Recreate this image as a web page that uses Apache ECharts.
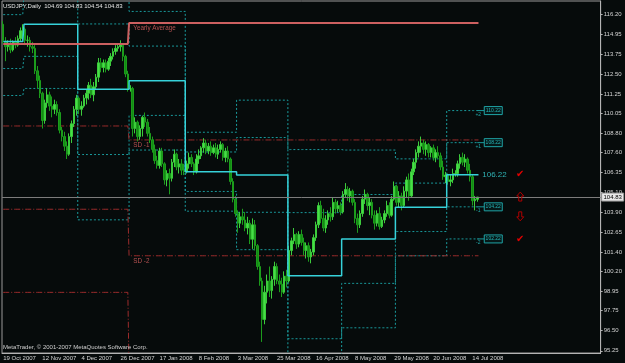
<!DOCTYPE html>
<html><head><meta charset="utf-8">
<script src="https://cdn.jsdelivr.net/npm/echarts@6/dist/echarts.min.js"></script>
<style>html,body{margin:0;padding:0;background:#060b0b}#c{width:625px;height:363px}</style>
</head><body><div id="c"></div>
<script>
// ---- tick labels ----
const dateLabels = ['19 Oct 2007','12 Nov 2007','4 Dec 2007','26 Dec 2007','17 Jan 2008','8 Feb 2008','3 Mar 2008','25 Mar 2008','16 Apr 2008','8 May 2008','29 May 2008','20 Jun 2008','14 Jul 2008'];
const labelEvery = 16;
const slotCount = 245;
const priceTicks = [116.20,114.95,113.75,112.50,111.25,110.05,108.80,107.60,106.35,105.10,103.90,102.65,101.40,100.20,98.95,97.75,96.50,95.25];
const title = 'USDJPY,Daily  104.69 104.83 104.54 104.83';
const lastPrice = 104.83;

// ---- daily candles (USDJPY) ----
const opens = [
115.6,114.5,114.2,114.4,114.0,114.5,114.3,114.7,115.2,115.3,
114.6,114.6,114.2,114.1,112.7,112.1,111.3,109.6,110.7,111.2,
110.5,110.3,110.6,110.1,109.0,108.6,108.0,107.5,108.6,109.4,
110.3,111.0,110.3,110.5,111.0,111.3,111.8,111.2,111.7,112.3,
113.2,112.9,113.2,112.8,113.3,113.6,113.9,114.1,114.2,114.3,
113.6,112.5,111.6,111.6,109.1,109.5,108.6,109.1,109.8,109.5,
108.8,108.4,107.8,107.1,106.8,107.7,106.9,105.9,106.3,106.0,
107.0,107.5,106.7,106.9,106.5,106.4,106.9,107.3,106.9,106.4,
107.2,107.4,107.9,108.2,107.7,108.0,107.6,107.9,107.5,107.8,
108.1,107.3,107.7,107.2,105.8,104.7,103.8,103.2,103.6,103.4,
102.9,103.2,102.2,103.1,101.8,100.5,99.6,97.2,98.9,99.6,
99.0,99.7,100.5,99.6,99.4,98.9,99.9,99.6,101.5,102.1,
102.5,101.9,102.5,102.0,101.5,101.8,101.1,101.4,102.3,103.1,
104.3,103.5,102.9,103.4,103.8,103.6,104.5,104.1,104.3,103.9,
105.0,105.3,104.9,105.2,104.5,103.5,103.1,103.8,104.7,105.0,
104.3,104.5,103.7,103.2,103.8,103.0,103.4,103.8,104.3,103.7,
104.7,105.5,104.5,104.9,104.3,105.2,105.9,104.9,106.4,107.0,
107.6,108.0,108.2,107.8,108.1,107.6,107.9,107.3,107.6,107.4,
106.7,106.1,106.2,105.8,105.9,106.3,106.3,106.9,107.3,107.0,
107.2,106.5,106.1,104.6,104.69];
const closes = [
114.6,114.2,114.4,114.0,114.5,114.3,114.7,115.2,115.3,114.6,
114.6,114.2,114.1,112.7,112.1,111.3,109.6,110.7,111.2,110.5,
110.3,110.6,110.1,109.0,108.6,108.0,107.5,108.6,109.4,110.3,
111.0,110.3,110.5,111.0,111.3,111.8,111.2,111.7,112.3,113.2,
112.9,113.2,112.8,113.3,113.6,113.9,114.1,114.2,114.3,113.6,
112.5,111.6,111.6,109.1,109.5,108.6,109.1,109.8,109.5,108.8,
108.4,107.8,107.1,106.8,107.7,106.9,105.9,106.3,106.0,107.0,
107.5,106.7,106.9,106.5,106.4,106.9,107.3,106.9,106.4,107.2,
107.4,107.9,108.2,107.7,108.0,107.6,107.9,107.5,107.8,108.1,
107.3,107.7,107.2,105.8,104.7,103.8,103.2,103.6,103.4,102.9,
103.2,102.2,103.1,101.8,100.5,99.6,97.2,98.9,99.6,99.0,
99.7,100.5,99.6,99.4,98.9,99.9,99.6,101.5,102.1,102.5,
101.9,102.5,102.0,101.5,101.8,101.1,101.4,102.3,103.1,104.3,
103.5,102.9,103.4,103.8,103.6,104.5,104.1,104.3,103.9,105.0,
105.3,104.9,105.2,104.5,103.5,103.1,103.8,104.7,105.0,104.3,
104.5,103.7,103.2,103.8,103.0,103.4,103.8,104.3,103.7,104.7,
105.5,104.5,104.9,104.3,105.2,105.9,104.9,106.4,107.0,107.6,
108.0,108.2,107.8,108.1,107.6,107.9,107.3,107.6,107.4,106.7,
106.1,106.2,105.8,105.9,106.3,106.3,106.9,107.3,107.0,107.2,
106.5,106.1,104.6,104.7,104.83];
const lows = [
114.4,113.3,113.9,113.8,113.9,114.1,114.2,114.5,114.6,114.3,
114.2,113.9,113.8,112.5,111.6,111.0,109.1,109.4,110.4,110.2,
109.8,110.0,109.9,108.8,108.3,107.7,107.2,107.4,108.2,109.2,
109.9,110.0,109.9,110.4,110.6,110.9,111.0,110.8,111.5,112.0,
112.6,112.6,112.6,112.7,113.0,113.4,113.7,113.9,113.9,113.3,
112.3,111.4,111.4,108.6,108.8,108.3,108.4,108.6,109.2,108.6,
108.2,107.6,106.9,106.6,106.6,106.7,105.6,105.5,105.0,105.8,
106.7,106.5,106.3,106.2,106.2,106.3,106.6,106.7,106.2,106.3,
106.9,107.2,107.6,107.5,107.5,107.4,107.5,107.3,107.2,107.6,
107.1,107.0,107.0,105.6,104.5,103.6,102.6,102.9,103.1,102.7,
102.5,101.9,101.6,101.5,100.3,99.3,95.8,96.9,98.2,98.6,
98.5,99.3,99.4,98.9,98.6,98.8,99.2,99.5,101.2,101.9,
101.6,101.7,101.8,101.2,101.0,100.8,100.7,101.2,102.1,102.9,
103.2,102.7,102.6,103.1,103.3,103.4,103.8,103.9,103.7,103.8,
104.8,104.6,104.5,104.3,103.2,102.6,102.9,103.6,104.4,104.0,
103.7,103.5,102.8,103.0,102.8,102.9,103.2,103.6,103.5,103.6,
104.6,104.3,104.2,104.0,104.2,104.8,104.6,104.8,106.2,106.6,
107.3,107.6,107.5,107.4,107.3,107.3,107.1,107.0,107.2,106.5,
105.9,105.7,105.6,105.5,105.7,106.1,106.1,106.6,106.8,106.7,
106.3,105.8,104.3,104.0,104.54];
const highs = [
115.8,114.8,114.6,114.7,114.6,114.8,114.9,115.4,115.6,115.4,
114.9,114.8,114.5,114.3,113.0,112.4,111.4,110.9,111.6,111.4,
111.1,110.9,110.8,110.3,109.2,108.9,108.3,108.8,109.6,110.5,
111.2,111.1,110.8,111.2,111.5,112.0,112.2,112.0,112.5,113.5,
113.5,113.4,113.4,113.5,113.8,114.1,114.3,114.4,114.6,114.4,
113.7,112.7,111.8,111.7,109.8,109.6,109.3,109.9,110.1,109.7,
109.2,108.6,108.1,107.4,107.9,107.9,107.0,106.5,106.6,107.2,
107.8,107.6,107.2,107.2,106.9,107.1,107.6,107.5,107.0,107.5,
107.8,108.0,108.5,108.4,108.2,108.3,108.1,108.2,108.1,108.3,
108.2,107.9,108.0,107.3,106.0,104.9,104.0,103.9,104.1,103.9,
103.6,103.4,103.5,103.4,101.9,100.8,99.8,99.3,100.0,100.5,
99.9,100.8,100.7,100.0,99.8,100.2,100.3,101.8,102.3,102.9,
102.6,102.7,102.8,102.3,102.0,102.0,101.6,102.5,103.3,104.5,
104.6,104.1,103.7,104.0,104.2,104.8,104.7,104.6,104.5,105.2,
105.7,105.5,105.4,105.3,104.7,103.8,104.0,104.9,105.3,105.1,
104.8,104.7,104.0,104.0,104.2,103.6,104.0,104.6,104.5,104.9,
105.8,105.6,105.2,105.1,105.5,106.1,106.3,106.6,107.2,107.8,
108.3,108.6,108.4,108.3,108.2,108.0,108.1,107.8,108.0,107.6,
107.1,106.4,106.3,106.2,106.6,106.5,107.1,107.5,107.6,107.5,
107.3,106.9,106.2,104.9,104.83];

// ---- monthly pivot levels (per month) ----
const monthStarts = [0,9,31,52,75,96,117,139,161,182];
const pivotLevel = [114.52,115.60,111.55,112.08,106.41,106.21,99.93,102.22,104.19,106.22];
const bandPlus2 = [117.88,119.59,119.69,116.40,108.87,110.87,107.79,107.76,107.21,110.22];
const bandPlus1 = [116.20,117.60,115.62,114.24,107.64,108.54,103.86,104.99,105.70,108.22];
const bandMinus1 = [112.84,113.60,107.48,109.92,105.18,103.88,96.00,99.45,102.68,104.22];
const bandMinus2 = [111.16,111.60,103.41,107.76,103.95,101.55,92.07,96.68,101.17,102.22];
const bandNames = ['+2','+1','-1','-2'];

// ---- yearly levels ----
const yearStarts = [0,52];
const yearAvg = [114.37,115.68];
const yearSdM1 = [109.26,108.39];
const yearSdM2 = [104.07,101.17];
const yearSdM3 = [98.89,93.90];

const lastBar = opens.length - 1;
const cats = Array.from({length: slotCount}, (_, i) => String(i));
const candles = opens.map((o, i) => [o, closes[i], lows[i], highs[i]]);
function expand(starts, vals) {
  const out = [];
  for (let i = 0; i < slotCount; i++) {
    if (i > lastBar) { out.push(null); continue; }
    let k = 0;
    while (k + 1 < starts.length && starts[k + 1] <= i) k++;
    out.push(vals[k]);
  }
  return out;
}
const FONT = 'Liberation Sans, Arial, sans-serif';
const dotted = (name, vals) => ({
  name, type: 'line', data: expand(monthStarts, vals), step: 'middle', symbol: 'none', silent: true,
  lineStyle: {color: '#1a9c9e', width: 1, type: [2, 2]}, clip: true, z: 2
});
const dashdot = (name, vals) => ({
  name, type: 'line', data: expand(yearStarts, vals), step: 'middle', symbol: 'none', silent: true,
  lineStyle: {color: '#9c2c2c', width: 1, type: [6, 2, 1, 2]}, clip: true, z: 2
});

const chart = echarts.init(document.getElementById('c'), null, {renderer: 'canvas'});
const isLab = (i) => i % labelEvery === 0 && i / labelEvery < dateLabels.length;
chart.setOption({
  backgroundColor: '#060b0b',
  animation: false,
  grid: {left: 2, right: 23, top: 1, bottom: 10, show: true, borderColor: '#9a9a9a', borderWidth: 1, backgroundColor: 'transparent'},
  xAxis: {
    type: 'category', data: cats, boundaryGap: true,
    axisLine: {lineStyle: {color: '#b4b4b4', width: 1}},
    axisTick: {interval: (i) => isLab(i), length: 2, lineStyle: {color: '#b4b4b4'}},
    axisLabel: {interval: (i) => isLab(i), formatter: (v) => dateLabels[Number(v) / labelEvery], align: 'left',
      color: '#d4d4d4', fontSize: 6, fontFamily: FONT, margin: 2},
    splitLine: {show: false}
  },
  yAxis: {
    type: 'value', position: 'right', min: 95.11, max: 117.05,
    axisLine: {show: true, lineStyle: {color: '#b4b4b4'}},
    axisTick: {show: true, customValues: priceTicks, length: 2, lineStyle: {color: '#b4b4b4'}},
    axisLabel: {customValues: priceTicks, formatter: (v) => v.toFixed(2), color: '#d4d4d4', fontSize: 6, fontFamily: FONT, margin: 3},
    splitLine: {show: false}
  },
  series: [
    dotted('+2', bandPlus2), dotted('+1', bandPlus1), dotted('-1', bandMinus1), dotted('-2', bandMinus2),
    dashdot('SD -1', yearSdM1), dashdot('SD -2', yearSdM2), dashdot('SD -3', yearSdM3),
    {
      name: 'USDJPY', type: 'candlestick', data: candles, barWidth: 2, z: 3,
      itemStyle: {color: '#46e046', color0: '#128c12', borderColor: '#3ccc3c', borderColor0: '#1c9c1c', borderWidth: 1},
      markLine: {silent: true, symbol: 'none', label: {show: false},
        lineStyle: {color: '#7c7c7c', type: 'solid', width: 1},
        data: [{yAxis: lastPrice}]}
    },
    {name: 'Pivot', type: 'line', data: expand(monthStarts, pivotLevel), step: 'middle', symbol: 'none', silent: true,
      lineStyle: {color: '#36d2da', width: 1.5}, z: 4},
    {name: 'Yearly Average', type: 'line', data: expand(yearStarts, yearAvg), step: 'middle', symbol: 'none', silent: true,
      lineStyle: {color: '#cc6060', width: 2}, z: 4}
  ]
});

// ---- annotations placed through the chart's own scales ----
const P = (i, v) => chart.convertToPixel({gridIndex: 0}, [i, v]);
const g = [];
const lastX = P(lastBar, lastPrice)[0];
const gridRect = chart.getModel().getComponent('grid').coordinateSystem.getRect();
g.push({type: 'text', left: gridRect.x + 1, top: gridRect.y + 2, style: {text: title, fill: '#e4e4e4', font: '6px ' + FONT}, z: 10});
g.push({type: 'text', left: gridRect.x + 1, top: gridRect.y + gridRect.height - 9, style: {text: 'MetaTrader, © 2001-2007 MetaQuotes Software Corp.', fill: '#d0d0d0', font: '6px ' + FONT}, z: 10});
// last-month band labels
const lastVals = [bandPlus2[9], bandPlus1[9], bandMinus1[9], bandMinus2[9]];
lastVals.forEach((v, k) => {
  const y = P(lastBar, v)[1];
  g.push({type: 'line', shape: {x1: lastX, y1: y, x2: lastX + 7, y2: y}, style: {stroke: '#1a9c9e', lineWidth: 1}, z: 10});
  g.push({type: 'rect', shape: {x: lastX + 7, y: y - 4, width: 18, height: 8}, style: {fill: '#061818', stroke: '#1fa4a6', lineWidth: 1}, z: 10});
  g.push({type: 'text', x: lastX + 16, y: y, style: {text: v.toFixed(2), fill: '#24b4b6', font: '5px ' + FONT, align: 'center', verticalAlign: 'middle'}, z: 11});
  g.push({type: 'text', x: lastX + 1, y: y + 4, style: {text: bandNames[k], fill: '#1fa4a6', font: '5px ' + FONT, align: 'center', verticalAlign: 'middle'}, z: 11});
});
// pivot label
const pvY = P(lastBar, pivotLevel[9])[1];
g.push({type: 'text', x: lastX + 5, y: pvY, style: {text: pivotLevel[9].toFixed(2), fill: '#2fb2b4', font: '8px ' + FONT, verticalAlign: 'middle'}, z: 11});
// yearly labels
const yx = P(yearStarts[1], yearAvg[1])[0];
[['Yearly Average', yearAvg[1]], ['SD -1', yearSdM1[1]], ['SD -2', yearSdM2[1]]].forEach(([t, v]) => {
  const y = P(yearStarts[1], v)[1];
  g.push({type: 'text', x: yx + 3, y: y + 5, style: {text: t, fill: '#b85252', font: '6.3px ' + FONT, verticalAlign: 'middle'}, z: 11});
});
// signal marks
const sx = lastX + 43;
g.push({type: 'text', x: sx, y: pvY, style: {text: '✔', fill: '#e00000', font: '10px DejaVu Sans', align: 'center', verticalAlign: 'middle'}, z: 11});
g.push({type: 'text', x: sx, y: P(lastBar, bandMinus2[9])[1], style: {text: '✔', fill: '#e00000', font: '10px DejaVu Sans', align: 'center', verticalAlign: 'middle'}, z: 11});
const upY = P(lastBar, lastPrice)[1];
const dnY = P(lastBar, bandMinus1[9])[1] + 9;
const upArrow = [[0,-5],[3.5,-1],[1.5,-1],[1.5,4],[-1.5,4],[-1.5,-1],[-3.5,-1]];
g.push({type: 'polygon', shape: {points: upArrow.map(([a, b]) => [sx + a, upY + b])}, style: {fill: 'none', stroke: '#b00000', lineWidth: 1}, z: 11});
g.push({type: 'polygon', shape: {points: upArrow.map(([a, b]) => [sx + a, dnY - b])}, style: {fill: 'none', stroke: '#b00000', lineWidth: 1}, z: 11});
// current price box on the axis
const cpY = P(lastBar, lastPrice)[1];
g.push({type: 'rect', shape: {x: gridRect.x + gridRect.width + 1, y: cpY - 4, width: 22, height: 8}, style: {fill: '#e8e8e8', stroke: '#9a9a9a', lineWidth: 1}, z: 12});
g.push({type: 'text', x: gridRect.x + gridRect.width + 12, y: cpY, style: {text: lastPrice.toFixed(2), fill: '#000000', font: '6px ' + FONT, align: 'center', verticalAlign: 'middle'}, z: 13});
chart.setOption({graphic: g});
</script>
</body></html>
